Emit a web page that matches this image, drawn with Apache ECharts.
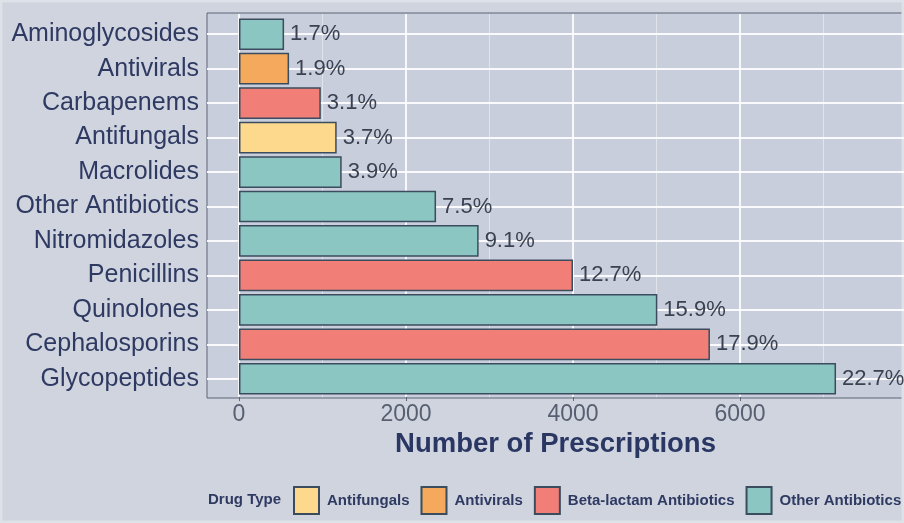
<!DOCTYPE html>
<html>
<head>
<meta charset="utf-8">
<script src="https://cdn.jsdelivr.net/npm/echarts@6/dist/echarts.min.js"></script>
<style>
  html, body { margin: 0; padding: 0; background: #cfd4df; }
  #chart { width: 904px; height: 523px; }
</style>
</head>
<body>
<div id="chart"></div>
<script>
// Prescription counts by drug class, listed top to bottom
const categories = ['Aminoglycosides', 'Antivirals', 'Carbapenems', 'Antifungals', 'Macrolides',
  'Other Antibiotics', 'Nitromidazoles', 'Penicillins', 'Quinolones', 'Cephalosporins', 'Glycopeptides'];
const prescriptions = [540, 600, 980, 1170, 1230, 2360, 2870, 4000, 5010, 5640, 7150];
const drugTypes = ['Other Antibiotics', 'Antivirals', 'Beta-lactam Antibiotics', 'Antifungals',
  'Other Antibiotics', 'Other Antibiotics', 'Other Antibiotics', 'Beta-lactam Antibiotics',
  'Other Antibiotics', 'Beta-lactam Antibiotics', 'Other Antibiotics'];
const typeOrder = ['Antifungals', 'Antivirals', 'Beta-lactam Antibiotics', 'Other Antibiotics'];
const typeColors = ['#fcd98c', '#f4a95c', '#f17f77', '#8cc6c3'];
const xTicks = [0, 2000, 4000, 6000];
const xMinorTicks = [1000, 3000, 5000, 7000];

const total = prescriptions.reduce((a, b) => a + b, 0);
const FONT = 'Liberation Sans';
const NAVY = '#2f3a62';
const X_MIN = -383, X_MAX = 7964;

// horizontal guides sit on the category centres of the bar grid
const rowLines = categories.map(c => ({ yAxis: c, lineStyle: { color: '#ffffff', width: 2, opacity: 0.9, type: 'solid' } }));
// vertical guides span the whole panel (second grid)
const colLines = [
  ...xTicks.map(v => ({ xAxis: v, lineStyle: { color: '#ffffff', width: 2, opacity: 0.85, type: 'solid' } })),
  ...xMinorTicks.map(v => ({ xAxis: v, lineStyle: { color: '#ffffff', width: 1, opacity: 0.45, type: 'solid' } }))
];

const marker = data => ({
  silent: true, symbol: 'none', z: 1, label: { show: false }, animation: false, data
});

const series = typeOrder.map((t, i) => ({
  name: t,
  type: 'bar',
  stack: 'all',
  barCategoryGap: '8%',
  itemStyle: { color: typeColors[i], borderColor: '#3b4c5e', borderWidth: 1.5 },
  label: {
    show: true,
    position: 'right',
    distance: 6,
    fontFamily: FONT,
    fontSize: 22,
    color: '#3a4151',
    formatter: p => (p.value / total * 100).toFixed(1) + '%'
  },
  z: 3,
  data: prescriptions.map((v, k) => drugTypes[k] === t ? v : '-'),
  markLine: i === 0 ? marker(rowLines) : undefined
}));

series.push({
  type: 'line',
  xAxisIndex: 1,
  yAxisIndex: 1,
  data: [],
  z: 1,
  markLine: marker(colLines)
});

const chart = echarts.init(document.getElementById('chart'), null, { renderer: 'canvas' });
chart.setOption({
  animation: false,
  backgroundColor: '#cfd4df',
  graphic: [
    {
      type: 'rect', z: 0,
      shape: { x: 207, y: 13, width: 702, height: 385 },
      style: { fill: '#c8cedb', stroke: '#5d6476', lineWidth: 1 }
    },
    {
      type: 'rect', z: 0,
      shape: { x: 1, y: 1, width: 902, height: 521 },
      style: { fill: null, stroke: '#dde1e8', lineWidth: 3 }
    },
    {
      type: 'text', z: 3, left: 208, top: 492,
      style: { text: 'Drug Type', font: 'bold 15px "Liberation Sans"', fill: NAVY }
    }
  ],
  grid: [
    { left: 207, top: 17, width: 697, height: 379, show: false },
    { left: 207, top: 14, width: 697, height: 383, show: false }
  ],
  xAxis: [{
    type: 'value',
    min: X_MIN,
    max: X_MAX,
    splitLine: { show: false },
    axisLine: { show: false },
    axisTick: { show: true, customValues: xTicks, length: 5, lineStyle: { color: '#5d6476' } },
    axisLabel: {
      customValues: xTicks, fontFamily: FONT, fontSize: 23, color: '#585f71', margin: 7,
      formatter: v => String(v)
    },
    name: 'Number of Prescriptions',
    nameLocation: 'middle',
    nameGap: 34,
    nameTextStyle: { fontFamily: FONT, fontSize: 27.5, fontWeight: 'bold', color: '#2a3763' }
  }, {
    type: 'value',
    gridIndex: 1,
    min: X_MIN,
    max: X_MAX,
    show: false
  }],
  yAxis: [{
    type: 'category',
    inverse: true,
    data: categories,
    axisLine: { show: false },
    axisTick: { show: true, alignWithLabel: true, length: 4, lineStyle: { color: '#5d6476' } },
    axisLabel: { fontFamily: FONT, fontSize: 25, color: NAVY, margin: 8 },
    splitLine: { show: false }
  }, {
    type: 'value',
    gridIndex: 1,
    min: 0,
    max: 1,
    show: false
  }],
  legend: {
    data: typeOrder,
    left: 293,
    top: 486,
    width: 640,
    padding: 0,
    itemWidth: 25,
    itemHeight: 27,
    itemGap: 11,
    icon: 'rect',
    textStyle: { fontFamily: FONT, fontSize: 15, fontWeight: 'bold', color: NAVY, padding: [0, 0, 0, 3] }
  },
  series: series
});
</script>
</body>
</html>
